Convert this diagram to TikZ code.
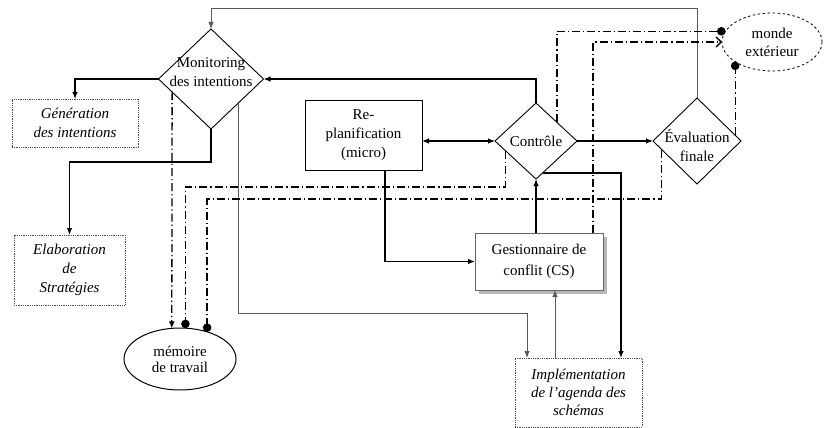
\documentclass[tikz,border=0pt]{standalone}
\usepackage{fontspec}
\setmainfont{Liberation Serif}
\usetikzlibrary{arrows.meta,shapes.geometric,calc,shadows}
\begin{document}
\begin{tikzpicture}[x=1pt,y=-1pt,
  font=\fontsize{15}{19}\selectfont,
  every node/.style={inner sep=0pt, outer sep=0pt},
  diam/.style={diamond, draw, line width=0.9pt},
  txt/.style={align=center},
  dotbox/.style={rectangle, draw=black!70, densely dotted, line width=0.8pt, align=center, font=\fontsize{15}{19}\selectfont\itshape},
  solbox/.style={rectangle, draw, line width=1pt, align=center},
  conn/.style={line width=1.2pt, -{Latex[length=7pt,width=5.5pt]}},
  faint/.style={line width=0.9pt, draw=black!65, -{Latex[length=7pt,width=5.5pt]}},
  dd/.style={line width=1.3pt, dash pattern=on 8pt off 3pt on 1.2pt off 3pt},
  dotend/.style={-{Circle[length=8.5pt]}},
]
\fill[white] (0,0) rectangle (824,428);
\useasboundingbox (0,0) rectangle (824,428);

% nodes
\node[diam, minimum width=105pt, minimum height=100pt] (mon) at (211,79) {};
\node[txt] (montxt) at (211,72) {Monitoring\\des intentions};
\node[dotbox, minimum width=126pt, minimum height=48pt] (gen) at (75,123) {Génération\\des intentions};
\node[dotbox, minimum width=111pt, minimum height=70pt] (elab) at (69.5,270) {Elaboration\\de\\Stratégies};
\node[solbox, minimum width=117pt, minimum height=70pt] (rp) at (363.5,135) {Re-\\planification\\(micro)};
\node[diam, minimum width=82pt, minimum height=76pt] (ctl) at (536,141) {};
\node[txt] (ctltxt) at (536,141) {Contrôle};
\node[diam, minimum width=88pt, minimum height=86pt] (eva) at (697,141) {};
\node[txt] (evatxt) at (697,146) {Évaluation\\finale};
\node[ellipse, draw, dash pattern=on 2.5pt off 2.5pt, line width=0.8pt, minimum width=100pt, minimum height=58pt, align=center, font=\fontsize{15}{18}\selectfont] (mw) at (772,42) {monde\\extérieur};
\node[rectangle, draw=black!60, line width=0.8pt, fill=white, drop shadow={shadow xshift=4pt, shadow yshift=-4pt, fill=black!55}, minimum width=128pt, minimum height=57pt, align=center, font=\fontsize{15}{21}\selectfont] (gest) at (539,261.5) {Gestionnaire de\\conflit (CS)};
\node[dotbox, minimum width=127pt, minimum height=69pt, font=\fontsize{15}{18}\selectfont\itshape] (imp) at (578.5,392.5) {Implémentation\\de l'agenda des\\schémas};
\node[ellipse, draw, line width=1pt, minimum width=112pt, minimum height=62pt, align=center, font=\fontsize{15}{16}\selectfont] (mem) at (180,359) {mémoire\\de travail};

% helper coordinates
\coordinate (y8) at (0,8);
\coordinate (y162) at (0,162);
\coordinate (y187) at (0,187);
\coordinate (y199) at (0,199);
\coordinate (y313) at (0,313);
\coordinate (x385) at (385,0);
\coordinate (x527) at (527,0);
\coordinate (x555) at (555,0);
\coordinate (x593) at (593,0);
\coordinate (x621) at (621,0);

% solid connectors
\draw[faint] (eva.north) -- (eva.north |- y8) -| (mon.north);
\draw[conn] (ctl.north) |- (mon.east);
\draw[line width=1.2pt, {Latex[length=7pt,width=5.5pt]}-{Latex[length=7pt,width=5.5pt]}] (rp.east |- ctl.west) -- (ctl.west);
\draw[conn] (mon.west) -| (gen.north);
\draw[conn] (mon.south) -- (mon.south |- y162) -| (elab.north);
\draw[conn] (ctl.east) -- (eva.west);
\draw[conn] (rp.south -| x385) |- (gest.west);
\draw[conn] (gest.north -| ctl.south) -- (ctl.south);
\draw[faint] (imp.north -| x555) -- (gest.south -| x555);
\draw[conn] ($(ctl.south)!0.16!(ctl.east)$) -| (imp.north -| x621);
\coordinate (m1) at ($(mon.south)!0.52!(mon.east)$);
\draw[faint] (m1) -- (m1 |- y313) -| (imp.north -| x527);

% dash-dot connectors
\draw[dd, -{Latex[length=7pt,width=6pt]}] ($(mon.west)!0.26!(mon.south)$) -- (mem.105);
\coordinate (c1) at ($(ctl.west)!0.25!(ctl.south)$);
\draw[dd, dotend] (c1) -- (c1 |- y187) -| (mem.80);
\coordinate (e1) at ($(eva.west)!0.2!(eva.south)$);
\draw[dd, dotend] (e1) -- (e1 |- y199) -| (mem.45);
\draw[dd, dotend] ($(ctl.north)!0.51!(ctl.east)$) |- (mw.167);
\draw[dd, -{Straight Barb[length=5pt]}] (gest.north -| x593) |- (mw.west);
\coordinate (e2) at ($(eva.north)!0.86!(eva.east)$);
\draw[dd, dotend] (mw.208 |- e2) -- (mw.208);
\end{tikzpicture}
\end{document}
